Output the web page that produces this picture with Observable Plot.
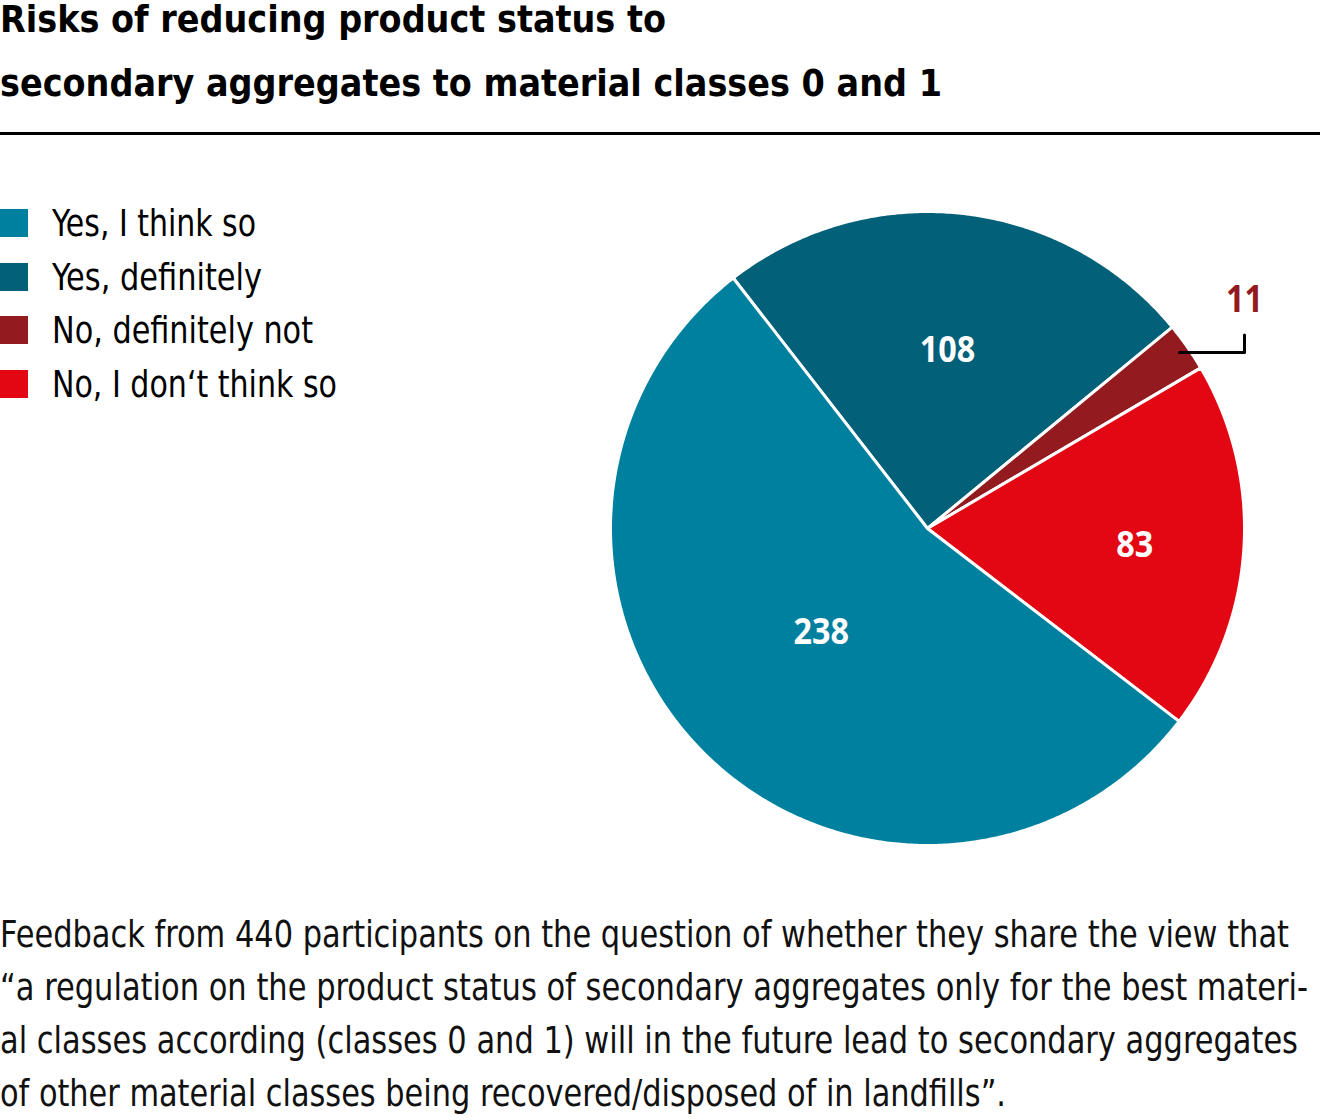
<!DOCTYPE html>
<html>
<head>
<meta charset="utf-8">
<script src="https://cdn.jsdelivr.net/npm/d3@7"></script>
<script src="https://cdn.jsdelivr.net/npm/@observablehq/plot@0.6"></script>
<style>
  html, body { margin: 0; padding: 0; background: #fff; }
  body { width: 1320px; height: 1120px; position: relative; overflow: hidden;
         font-family: "DejaVu Sans Condensed", "Noto Sans", sans-serif; color: #000; }
  .fit { display: inline-block; white-space: nowrap; transform-origin: 0 50%; }
  #title { position: absolute; left: 0; top: 0; font-size: 38px; font-weight: bold; line-height: 38px; white-space: nowrap; }
  #title div + div { margin-top: 26px; }
  #rule { position: absolute; left: 0; top: 132px; width: 1320px; height: 3px; background: #000; }
  #chart { position: absolute; left: 0; top: 140px; }
  #legend { position: absolute; left: 0; top: 209px; }
  .row { position: absolute; left: 0; height: 28px; white-space: nowrap; }
  .sw { position: absolute; left: 0; top: 0; width: 28px; height: 28px; }
  .lt { position: absolute; left: 52px; top: 0; font-size: 38px; line-height: 28px; }
  #caption { position: absolute; left: 0; top: 908px; font-size: 38px; line-height: 53px; white-space: nowrap; color: #111; }
</style>
</head>
<body>
<div id="title"></div>
<div id="rule"></div>
<div id="chart"></div>
<div id="legend"></div>
<div id="caption"></div>
<script>
// ---- data ----
const titleLines = ["Risks of reducing product status to", "secondary aggregates to material classes 0 and 1"];
const categories = ["Yes, I think so", "Yes, definitely", "No, definitely not", "No, I don‘t think so"];
const values = [238, 108, 11, 83];
const colors = ["#00809f", "#036079", "#931b1f", "#e30613"];
const pieOrder = ["Yes, definitely", "No, definitely not", "No, I don‘t think so", "Yes, I think so"];
const captionLines = [
  "Feedback from 440 participants on the question of whether they share the view that",
  "“a regulation on the product status of secondary aggregates only for the best materi-",
  "al classes according (classes 0 and 1) will in the future lead to secondary aggregates",
  "of other material classes being recovered/disposed of in landfills”."
];

// ---- layout settings (text widths as measured in the reference) ----
const titleWidths = [666, 942];
const legendWidths = [204, 210, 261, 285];
const captionWidths = [1289, 1308, 1298, 1006];
const startDeg = -37.8;
const labelRadius = {"Yes, I think so": 0.475, "Yes, definitely": 0.565, "No, I don‘t think so": 0.655};
const labelShift = {"Yes, I think so": -3, "Yes, definitely": 0, "No, I don‘t think so": 4};
const outsideLabel = "No, definitely not";
const digitWidth = 18.5;

document.getElementById("title").innerHTML = titleLines.map(t => `<div><span class="fit">${t}</span></div>`).join("");
document.getElementById("caption").innerHTML = captionLines.map(t => `<div><span class="fit">${t}</span></div>`).join("");
const legend = document.getElementById("legend");
categories.forEach((c, i) => {
  const row = document.createElement("div");
  row.className = "row";
  row.style.top = (i * 53.7) + "px";
  row.innerHTML = `<div class="sw" style="background:${colors[i]}"></div><div class="lt"><span class="fit">${c}</span></div>`;
  legend.appendChild(row);
});

function fitAll() {
  const groups = [["#title .fit", titleWidths], ["#legend .fit", legendWidths], ["#caption .fit", captionWidths]];
  for (const [sel, widths] of groups) {
    document.querySelectorAll(sel).forEach((el, i) => {
      el.style.transform = "none";
      const w = el.getBoundingClientRect().width;
      if (w > 0) el.style.transform = `scaleX(${widths[i] / w})`;
    });
  }
}

const valueOf = Object.fromEntries(categories.map((c, i) => [c, values[i]]));
const pieData = pieOrder.map(c => ({category: c, value: valueOf[c]}));
const start = startDeg * Math.PI / 180;
const arcs = d3.pie().sort(null).value(d => d.value).startAngle(start).endAngle(start + 2 * Math.PI)(pieData);

const pts = [];
const labels = [];
let leader = [];
let outside = null;
for (const a of arcs) {
  const cat = a.data.category;
  const n = Math.max(2, Math.ceil((a.endAngle - a.startAngle) * 180 / Math.PI / 0.5));
  pts.push({category: cat, x: 0, y: 0});
  for (let k = 0; k <= n; k++) {
    const t = a.startAngle + (a.endAngle - a.startAngle) * k / n;
    pts.push({category: cat, x: Math.sin(t), y: Math.cos(t)});
  }
  const mid = (a.startAngle + a.endAngle) / 2;
  if (cat === outsideLabel) {
    const sy = 0.97 * Math.cos(mid);
    leader = [{x: 0.97 * Math.sin(mid), y: sy}, {x: 1.0, y: sy}, {x: 1.0, y: sy + 0.055}];
    outside = {x: 1.0, y: sy + 0.165, value: a.data.value};
  } else {
    const r = labelRadius[cat];
    labels.push({x: r * Math.sin(mid), y: r * Math.cos(mid), value: a.data.value, dy: labelShift[cat]});
  }
}

const R = 317, cx = 927, cy = 388;
const labelFont = '"Open Sans", "DejaVu Sans Condensed", sans-serif';
const chart = Plot.plot({
  width: 1320,
  height: 740,
  margin: 0,
  x: {domain: [-1, 1], range: [cx - R, cx + R], axis: null},
  y: {domain: [-1, 1], range: [cy + R, cy - R], axis: null},
  color: {domain: categories, range: colors},
  style: {fontFamily: labelFont, background: "transparent"},
  marks: [
    Plot.line(pts, {x: "x", y: "y", z: "category", fill: "category", stroke: "white", strokeWidth: 3, curve: "linear-closed", strokeLinejoin: "round"}),
    ...labels.map(l => Plot.text([l], {x: "x", y: "y", dy: l.dy, text: d => String(d.value), fill: "white", fontSize: 36, fontWeight: "bold", className: "pielabel"})),
    Plot.line(leader, {x: "x", y: "y", stroke: "#000", strokeWidth: 3}),
    Plot.text([outside], {x: "x", y: "y", text: d => String(d.value), fill: "#931b1f", fontSize: 37, fontWeight: "bold", className: "pielabel"})
  ]
});
document.getElementById("chart").appendChild(chart);
chart.querySelectorAll(".pielabel text").forEach(t => {
  const s = t.textContent;
  t.setAttribute("textLength", s.length * digitWidth);
  t.setAttribute("lengthAdjust", "spacingAndGlyphs");
});

fitAll();
if (document.fonts && document.fonts.ready) document.fonts.ready.then(fitAll);
</script>
</body>
</html>
